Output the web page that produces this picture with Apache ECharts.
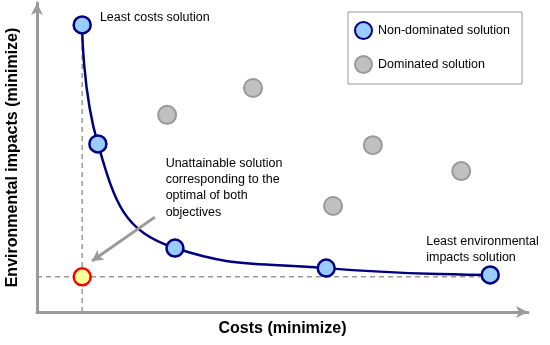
<!DOCTYPE html>
<html><head><meta charset="utf-8">
<script src="https://cdn.jsdelivr.net/npm/echarts@6/dist/echarts.min.js"></script>
<style>html,body{margin:0;padding:0;background:#fff}#c{width:550px;height:345px}</style>
</head><body><div id="c"></div><script>
const nonDomCost = [9.2, 12.4, 28.1, 58.9, 92.3];
const nonDomImpact = [92.9, 54.4, 20.7, 14.2, 12.0];
const domCost = [26.5, 44.0, 68.4, 86.4, 60.3];
const domImpact = [63.8, 72.5, 54.0, 45.6, 34.3];
const idealCost = [9.2];
const idealImpact = [11.4];
const legendNames = ['Non-dominated solution', 'Dominated solution'];
const xAxisTitle = 'Costs (minimize)';
const yAxisTitle = 'Environmental impacts (minimize)';
const labelLeastCost = 'Least costs solution';
const labelLeastEnv = 'Least environmental\nimpacts solution';
const labelIdeal = 'Unattainable solution\ncorresponding to the\noptimal of both\nobjectives';

const FONT = '"Liberation Sans", Arial, sans-serif';
const AXIS_GRAY = '#9a9a9a';
const FS = 12.5;
const zip = (a, b) => a.map((v, i) => [v, b[i]]);

const nonDom = zip(nonDomCost, nonDomImpact).map((p, i, arr) => {
  const item = { value: p };
  if (i === 0) {
    item.label = { show: true, position: 'right', distance: 8, offset: [0, -7], formatter: labelLeastCost };
  } else if (i === arr.length - 1) {
    item.label = { show: true, position: 'top', distance: 0, align: 'left', offset: [-64, 0], lineHeight: 16, formatter: labelLeastEnv };
  }
  return item;
});
const dom = zip(domCost, domImpact);
const ideal = zip(idealCost, idealImpact);

const chart = echarts.init(document.getElementById('c'), null, { renderer: 'canvas' });
chart.setOption({
  animation: false,
  textStyle: { fontFamily: FONT },
  grid: { left: 37, right: 22, top: 3, bottom: 33, containLabel: false, outerBoundsMode: 'none' },
  legend: {
    left: 348, top: 12, width: 174, orient: 'vertical',
    padding: [9, 12, 10, 6],
    itemWidth: 17, itemHeight: 17, itemGap: 15,
    borderColor: '#999', borderWidth: 1,
    textStyle: { fontFamily: FONT, fontSize: FS, color: '#000', padding: [0, 0, 0, 1] },
    data: legendNames.map(n => ({ name: n, icon: 'circle' }))
  },
  xAxis: {
    type: 'value', min: 0, max: 100,
    name: xAxisTitle, nameLocation: 'middle', nameGap: 9,
    nameTextStyle: { fontFamily: FONT, fontSize: 16, fontWeight: 'bold', color: '#000' },
    axisLine: { lineStyle: { color: AXIS_GRAY, width: 3 }, symbol: ['none', 'arrow'], symbolSize: [9, 12] },
    axisTick: { show: false }, axisLabel: { show: false }, splitLine: { show: false }
  },
  yAxis: {
    type: 'value', min: 0, max: 100,
    name: yAxisTitle, nameLocation: 'middle', nameGap: 16,
    nameTextStyle: { fontFamily: FONT, fontSize: 16, fontWeight: 'bold', color: '#000' },
    axisLine: { lineStyle: { color: AXIS_GRAY, width: 3 }, symbol: ['none', 'arrow'], symbolSize: [9, 12] },
    axisTick: { show: false }, axisLabel: { show: false }, splitLine: { show: false }
  },
  series: [
    {
      type: 'line', silent: true, symbol: 'none', z: 1,
      lineStyle: { color: '#999', width: 1.5, type: [5, 4] },
      data: [[idealCost[0], 0], [nonDomCost[0], nonDomImpact[0]]]
    },
    {
      type: 'line', silent: true, symbol: 'none', z: 1,
      lineStyle: { color: '#999', width: 1.5, type: [5, 4] },
      data: [[0, idealImpact[0]], [nonDomCost[nonDomCost.length - 1], idealImpact[0]]]
    },
    {
      name: legendNames[1], type: 'scatter', symbol: 'circle', symbolSize: 18, z: 3,
      itemStyle: { color: '#c0c0c0', borderColor: '#999', borderWidth: 2, opacity: 1 },
      data: dom
    },
    {
      name: legendNames[0], type: 'line', smooth: 0.5, symbol: 'circle', symbolSize: 17, showAllSymbol: true, z: 4,
      lineStyle: { color: '#000080', width: 2.5 },
      itemStyle: { color: '#99ccff', borderColor: '#000080', borderWidth: 2.5 },
      label: { color: '#000', fontFamily: FONT, fontSize: FS },
      data: nonDom
    },
    {
      name: 'ideal', type: 'scatter', symbol: 'circle', symbolSize: 17, z: 4,
      itemStyle: { color: '#ffff99', borderColor: '#ff0000', borderWidth: 2.5, opacity: 1 },
      data: ideal,
      markPoint: {
        symbol: 'circle', symbolSize: 0, silent: true,
        label: { show: true, position: 'right', distance: 0, color: '#000', fontFamily: FONT, fontSize: FS, lineHeight: 16.3, align: 'left', formatter: labelIdeal },
        data: [{ coord: [26.2, 40.2] }]
      },
      markLine: {
        silent: true, symbol: ['none', 'arrow'], symbolSize: [9, 11],
        lineStyle: { color: AXIS_GRAY, width: 3, type: 'solid' },
        label: { show: false },
        data: [[{ coord: [24.0, 30.7] }, { coord: [11.2, 16.5] }]]
      }
    }
  ]
});
</script></body></html>
